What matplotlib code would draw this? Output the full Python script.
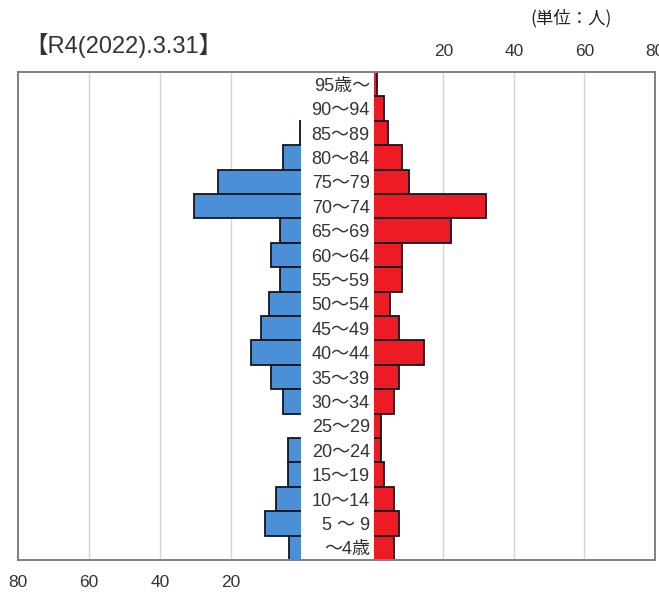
import matplotlib.pyplot as plt
import numpy as np

# age groups, top to bottom as in the chart
ages = ["95歳～", "90～94", "85～89", "80～84", "75～79", "70～74", "65～69",
        "60～64", "55～59", "50～54", "45～49", "40～44", "35～39", "30～34",
        "25～29", "20～24", "15～19", "10～14", "5 ～ 9", "～4歳"]
male = [0, 0, 0.5, 5.5, 23.6, 30.4, 6.3, 8.7, 6.4, 9.4,
        11.5, 14.4, 8.7, 5.4, 0, 4.1, 4.1, 7.3, 10.5, 3.6]
female = [1.3, 3.3, 4.3, 8.2, 10.2, 32.2, 22.3, 8.2, 8.2, 5.0,
          7.3, 14.5, 7.3, 6.1, 2.2, 2.2, 3.3, 6.1, 7.3, 6.1]
ticks = [20, 40, 60, 80]

FONT = ["Liberation Sans", "Noto Sans CJK JP", "DejaVu Sans"]
plt.rcParams["font.family"] = FONT

BLUE = "#4b8fd6"
RED = "#ed1c24"
EDGE = "#15151f"
GRID = "#d4d4d4"

W, H = 659, 592
fig = plt.figure(figsize=(W / 100, H / 100), dpi=100)


def box(x0, y0, x1, y1):
    # pixel box (top-left origin) -> figure fraction rect
    return [x0 / W, 1 - y1 / H, (x1 - x0) / W, (y1 - y0) / H]


top, bottom = 72, 560
frame = fig.add_axes(box(18, top, 655, bottom))
frame.set_xticks([])
frame.set_yticks([])
for s in frame.spines.values():
    s.set_color("#808080")
    s.set_linewidth(1.4)
frame.set_zorder(3)
frame.patch.set_alpha(0)

# start each half just past zero so the centre-side bar edge is clipped away
ax_l = fig.add_axes(box(18, top, 301, bottom))
ax_r = fig.add_axes(box(374, top, 655, bottom))

n = len(ages)
y = np.arange(n)[::-1]

for ax in (ax_l, ax_r):
    ax.set_ylim(-0.5, n - 0.5)
    ax.set_xlim(0.35, 80)
    for t in ticks[:-1]:
        ax.axvline(t, color=GRID, lw=1, zorder=0)
    for s in ax.spines.values():
        s.set_visible(False)
    ax.patch.set_alpha(0)
    ax.tick_params(length=0, labelsize=12.5, colors="#333333")

ax_l.invert_xaxis()
ax_l.barh(y, male, height=1.0, color=BLUE, edgecolor=EDGE, lw=1.3, zorder=2)
ax_r.barh(y, female, height=1.0, color=RED, edgecolor=EDGE, lw=1.3, zorder=2)

ax_l.set_yticks([])
ax_l.set_xticks(ticks)
ax_l.tick_params(axis="x", pad=11)

ax_r.set_yticks(y)
ax_r.set_yticklabels(ages, fontsize=13)
ax_r.tick_params(axis="y", pad=3)
ax_r.xaxis.tick_top()
ax_r.set_xticks(ticks)
ax_r.tick_params(axis="x", pad=9)

fig.text(24 / W, 1 - 45 / H, "【R4(2022).3.31】", fontsize=17, color="#333333",
         va="center", ha="left", family=FONT)
fig.text(612 / W, 1 - 18 / H, "(単位：人)", fontsize=12.5, color="#222222",
         va="center", ha="right", family=["Noto Sans CJK JP", "DejaVu Sans"])

fig.savefig("out.png", dpi=100)
